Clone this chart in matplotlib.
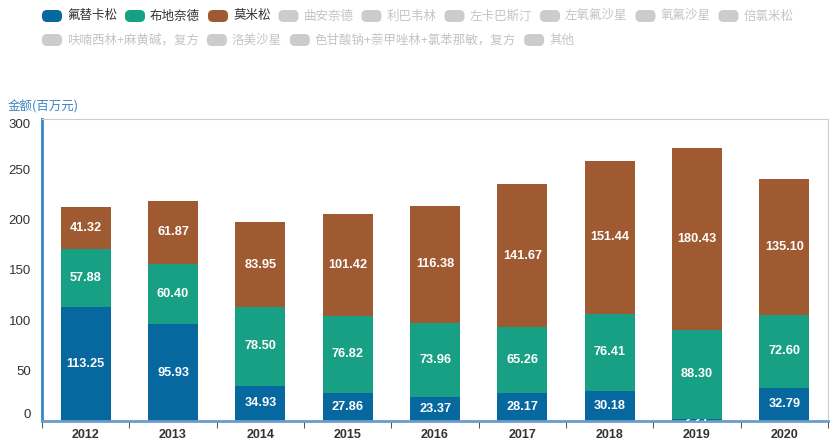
import matplotlib
matplotlib.use("Agg")
import matplotlib.pyplot as plt
from matplotlib.patches import FancyBboxPatch
from matplotlib.transforms import TransformedBbox
import numpy as np

plt.rcParams['font.family'] = ['Noto Sans CJK SC', 'DejaVu Sans']

years = ["2012", "2013", "2014", "2015", "2016", "2017", "2018", "2019", "2020"]
fluticasone = [113.25, 95.93, 34.93, 27.86, 23.37, 28.17, 30.18, 2.27, 32.79]
budesonide = [57.88, 60.40, 78.50, 76.82, 73.96, 65.26, 76.41, 88.30, 72.60]
mometasone = [41.32, 61.87, 83.95, 101.42, 116.38, 141.67, 151.44, 180.43, 135.10]

active_names = ["氟替卡松", "布地奈德", "莫米松"]
active_colors = ["#07679f", "#17a084", "#a05a32"]
hidden_names = ["曲安奈德", "利巴韦林", "左卡巴斯汀", "左氧氟沙星", "氧氟沙星", "倍氯米松",
                "呋喃西林+麻黄碱，复方", "洛美沙星", "色甘酸钠+萘甲唑林+氯苯那敏，复方", "其他"]

num_font = "Liberation Sans"

W, H = 840, 443
fig = plt.figure(figsize=(W / 100, H / 100), dpi=100)
ax = fig.add_axes([42 / W, 22 / H, (828 - 42) / W, 302 / H])

x = np.arange(len(years))
bottom = np.zeros(len(years))
for vals, color in zip([fluticasone, budesonide, mometasone], active_colors):
    vals = np.array(vals)
    bars = ax.bar(x, vals, 0.57, bottom=bottom, color=color, zorder=2)
    for bar, xi, b, v in zip(bars, x, bottom, vals):
        t = ax.text(xi, b + v / 2, f"{v:.2f}", ha="center", va="center", color="white",
                    fontsize=9.2, fontweight="bold", family=num_font, zorder=3)
        t.set_clip_on(True)
        t.set_clip_box(TransformedBbox(bar.get_bbox(), ax.transData))  # label only inside its bar
    bottom += vals

ax.set_xlim(-0.5, len(years) - 0.5)
ax.set_ylim(0, 300)
ax.set_yticks([0, 50, 100, 150, 200, 250, 300])
ax.set_xticks(x)
ax.set_xticklabels(years)
ax.set_xticks(np.arange(-0.5, len(years)), minor=True)
ax.tick_params(axis="x", which="major", length=0, pad=6, labelsize=9, labelcolor="#333333")
ax.tick_params(axis="x", which="minor", length=5, color="#333333", direction="out")
ax.tick_params(axis="y", length=0, pad=8, labelsize=9.5, labelcolor="#333333")
for lab in ax.get_xticklabels():
    lab.set_fontweight("bold")
    lab.set_family(num_font)
ylabs = ax.get_yticklabels()
for lab in ylabs:
    lab.set_family(num_font)
ylabs[0].set_va("bottom")
ylabs[-1].set_va("top")

ax.spines["left"].set_color("#3a86c4")
ax.spines["left"].set_linewidth(2)
ax.spines["bottom"].set_color("#6a9ccc")
ax.spines["bottom"].set_linewidth(2)
ax.spines["top"].set_color("#cccccc")
ax.spines["right"].set_color("#cccccc")
ax.set_axisbelow(True)

fig.text(8 / W, 1 - 107 / H, "金额(百万元)", color="#3a86c4", fontsize=9, va="center", ha="left")

# legend, flowed in two rows like the original
renderer = fig.canvas.get_renderer()
rows = [
    [(n, c, "#333333") for n, c in zip(active_names, active_colors)]
    + [(n, "#cccccc", "#c4c4c4") for n in hidden_names[:6]],
    [(n, "#cccccc", "#c4c4c4") for n in hidden_names[6:]],
]
row_y = [16, 40]
for items, yc in zip(rows, row_y):
    xp = 42
    for name, hcol, tcol in items:
        box = FancyBboxPatch((xp / W, (H - yc - 6) / H), 20 / W, 12 / H,
                             boxstyle="round,pad=0,rounding_size=0.006",
                             transform=fig.transFigure, facecolor=hcol, edgecolor="none",
                             mutation_aspect=W / H)
        fig.patches.append(box)
        t = fig.text((xp + 25) / W, 1 - yc / H, name, color=tcol, fontsize=9,
                     va="center", ha="left")
        bb = t.get_window_extent(renderer)
        xp = xp + 25 + bb.width + 8

fig.savefig("out.png", dpi=100)
